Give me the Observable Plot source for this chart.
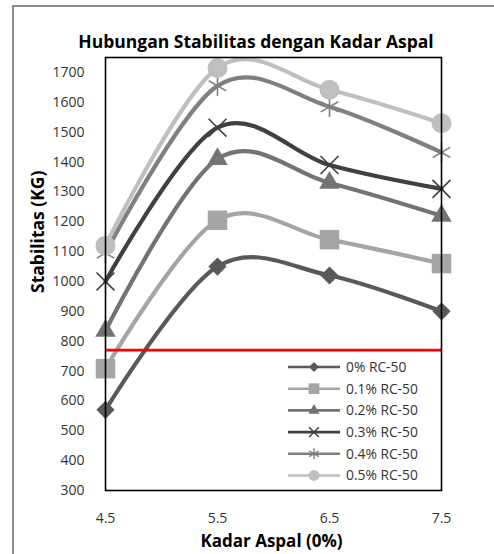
<!DOCTYPE html>
<html>
<head>
<meta charset="utf-8">
<script src="https://cdn.jsdelivr.net/npm/d3@7"></script>
<script src="https://cdn.jsdelivr.net/npm/@observablehq/plot@0.6"></script>
<style>
  html, body { margin: 0; padding: 0; background: #fff; }
  #wrap { position: relative; width: 494px; height: 554px; overflow: hidden; font-family: "Open Sans", Lato, sans-serif; }
  #border { position: absolute; left: 12px; top: 5px; width: 500px; height: 600px; border-left: 2px solid #8c8c8c; border-top: 2px solid #8c8c8c; }
  #title { position: absolute; left: 56px; width: 400px; top: 29px; text-align: center; font-weight: bold; font-size: 17.5px; line-height: 24px; color: #000; white-space: nowrap; }
  #chart { position: absolute; left: 0; top: 0; }
  #legend { position: absolute; left: 0; top: 0; }
</style>
</head>
<body>
<div id="wrap">
  <div id="border"></div>
  <div id="chart"></div>
  <div id="title">Hubungan Stabilitas dengan Kadar Aspal</div>
  <svg id="legend" width="494" height="554"></svg>
</div>
<script>
// ---- data ----
const kadarAspal = [4.5, 5.5, 6.5, 7.5];
const seriesNames = ["0% RC-50", "0.1% RC-50", "0.2% RC-50", "0.3% RC-50", "0.4% RC-50", "0.5% RC-50"];
const rc0  = [570, 1050, 1020, 900];
const rc01 = [708, 1205, 1140, 1060];
const rc02 = [835, 1410, 1330, 1220];
const rc03 = [1000, 1515, 1390, 1310];
const rc04 = [1095, 1655, 1585, 1432];
const rc05 = [1120, 1715, 1642, 1530];
const limitValue = 770;
const limitRange = [4.51, 7.5];
const yTicks = [300, 400, 500, 600, 700, 800, 900, 1000, 1100, 1200, 1300, 1400, 1500, 1600, 1700];
const xTicks = [4.5, 5.5, 6.5, 7.5];

// ---- styles ----
const seriesValues = [rc0, rc01, rc02, rc03, rc04, rc05];
const colors = ["#595959", "#a5a5a5", "#737373", "#404040", "#808080", "#bfbfbf"];
const symbols = ["diamond2", "square", "triangle", "times", "asterisk", "circle"];
const radii = [8.2, 11, 7.6, 8.2, 9.6, 10];
const d3Symbols = [d3.symbolDiamond2, d3.symbolSquare, d3.symbolTriangle, d3.symbolTimes, d3.symbolAsterisk, d3.symbolCircle];
const strokeSymbols = [false, false, false, true, true, false];
const fontStack = "'Open Sans', Lato, sans-serif";

const rows = [];
seriesNames.forEach((name, i) => {
  kadarAspal.forEach((x, j) => rows.push({series: name, idx: i, x, y: seriesValues[i][j]}));
});

const marks = [];
seriesNames.forEach((name, i) => {
  const data = rows.filter(d => d.idx === i);
  marks.push(Plot.line(data, {x: "x", y: "y", curve: "cardinal", stroke: colors[i], strokeWidth: 4.2}));
  if (strokeSymbols[i]) {
    marks.push(Plot.dot(data, {x: "x", y: "y", symbol: () => symbols[i], r: radii[i], stroke: colors[i], strokeWidth: 1.6, fill: "none"}));
  } else {
    marks.push(Plot.dot(data, {x: "x", y: "y", symbol: () => symbols[i], r: radii[i], fill: colors[i], stroke: "none"}));
  }
});

const chart = Plot.plot({
  width: 494,
  height: 554,
  marginLeft: 105,
  marginRight: 53,
  marginTop: 57,
  marginBottom: 64,
  style: {fontFamily: fontStack, fontSize: "14px", color: "#333", background: "transparent", overflow: "visible"},
  x: {domain: [4.5, 7.5]},
  y: {domain: [300, 1750]},
  marks: [
    Plot.axisY({ticks: yTicks, tickSize: 0, tickPadding: 21, label: null, tickFormat: d => String(d)}),
    Plot.axisX({ticks: xTicks, tickSize: 0, tickPadding: 23, label: null, tickFormat: d => d.toFixed(1)}),
    ...marks,
    Plot.ruleY([limitValue], {x1: limitRange[0], x2: limitRange[1], stroke: "#ff0000", strokeWidth: 2.6}),
    Plot.frame({stroke: "#000", strokeWidth: 1.6}),
    Plot.text(["Kadar Aspal (0%)"], {frameAnchor: "bottom", dx: -2, dy: 51, lineAnchor: "middle", fontWeight: "bold", fontSize: 17, fill: "#000"}),
    Plot.text(["Stabilitas (KG)"], {frameAnchor: "left", dx: -67, dy: 19, rotate: -90, lineAnchor: "middle", fontWeight: "bold", fontSize: 17.5, fill: "#000"})
  ]
});
document.getElementById("chart").appendChild(chart);

// ---- legend ----
const lg = d3.select("#legend");
const lx0 = 288, lx1 = 340, ltx = 346, ly0 = 367, ldy = 21.7;
seriesNames.forEach((name, i) => {
  const y = ly0 + i * ldy;
  const g = lg.append("g").attr("transform", `translate(0,${y})`);
  g.append("line").attr("x1", lx0).attr("x2", lx1).attr("y1", 0).attr("y2", 0).attr("stroke", colors[i]).attr("stroke-width", 2.6);
  const sizeScale = 0.3;
  const p = d3.symbol(d3Symbols[i], Math.PI * radii[i] * radii[i] * sizeScale)();
  const s = g.append("path").attr("d", p).attr("transform", `translate(${(lx0 + lx1) / 2},0)`);
  if (strokeSymbols[i]) s.attr("fill", "none").attr("stroke", colors[i]).attr("stroke-width", 1.4);
  else s.attr("fill", colors[i]);
  g.append("text").attr("x", ltx).attr("y", 0).attr("dy", "0.35em").attr("font-family", fontStack).attr("font-size", 13.8).attr("fill", "#333").text(name);
});
</script>
</body>
</html>
